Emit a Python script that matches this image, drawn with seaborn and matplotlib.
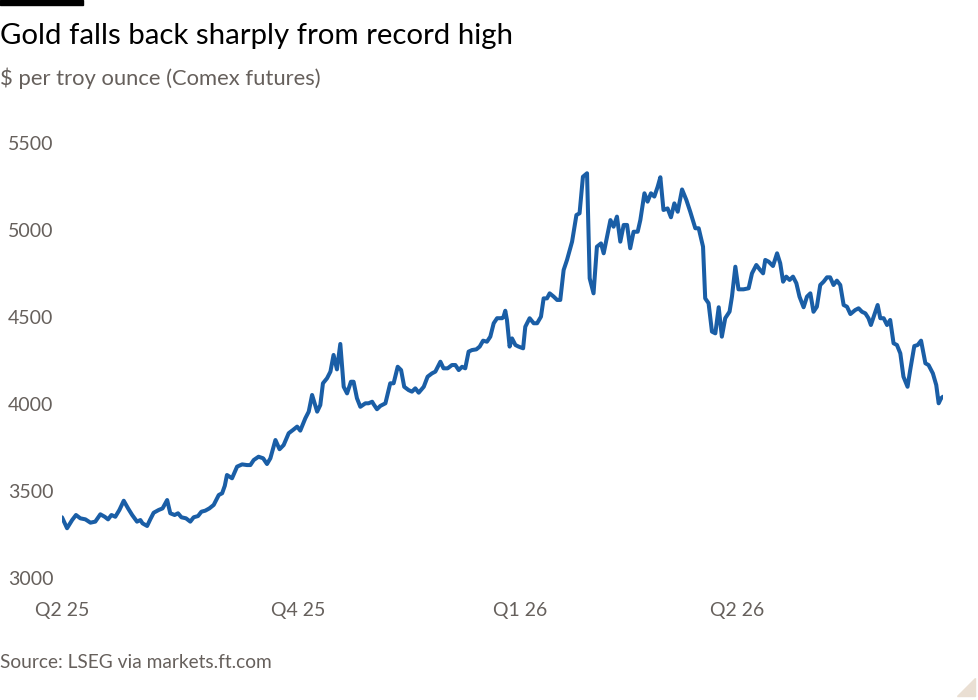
import matplotlib
matplotlib.use("Agg")
import matplotlib.pyplot as plt
import matplotlib.patches as mpatches
import seaborn as sns
import pandas as pd

# ---- data ----
start_date = "2025-07-01"
day_offset = [
    -6.0, -3.9, -1.8, -0.2, 1.6, 3.7, 5.8, 7.8, 9.9, 11.7, 13.1, 14.5, 16.1, 17.8, 19.6,
    21.4, 23.1, 25.1, 26.5, 27.4, 29.3, 30.6, 32.0, 34.1, 35.7, 37.6, 38.9, 40.7, 42.1,
    43.5, 45.4, 47.2, 48.6, 50.4, 51.8, 53.4, 55.1, 56.9, 59.0, 60.4, 61.5, 62.4, 64.5,
    66.6, 68.7, 70.7, 72.1, 73.5, 75.5, 77.4, 79.0, 80.4, 82.5, 84.2, 85.9, 88.0, 89.8,
    91.5, 92.8, 94.9, 96.3, 97.7, 99.8, 101.1, 102.2, 103.9, 105.3, 106.6, 108.0, 109.4,
    110.8, 112.2, 113.8, 114.9, 116.3, 117.7, 119.8, 121.1, 122.6, 123.2, 124.6, 126.0,
    128.1, 130.1, 131.5, 133.2, 134.6, 135.9, 137.7, 139.1, 140.5, 141.9, 144.0, 145.6,
    147.4, 148.8, 150.9, 152.2, 153.9, 155.7, 157.1, 158.5, 159.9, 161.2, 162.6, 164.0,
    165.8, 167.2, 168.6, 170.2, 171.6, 173.0, 174.4, 176.5, 177.1, 177.8, 178.5, 179.6,
    180.6, 182.0, 183.3, 185.2, 186.1, 187.9, 189.6, 191.0, 192.6, 193.7, 195.1, 196.2,
    197.8, 199.3, 200.6, 202.0, 203.4, 205.5, 207.3, 208.6, 210.0, 211.7, 212.8, 214.4,
    215.8, 217.5, 218.6, 220.0, 221.4, 222.7, 224.1, 225.5, 226.9, 228.3, 229.6, 231.0,
    232.7, 233.8, 235.5, 236.8, 238.2, 239.6, 241.0, 242.1, 243.4, 245.1, 246.5, 247.9,
    249.3, 251.1, 252.9, 254.5, 256.6, 258.0, 259.8, 260.7, 262.1, 263.5, 264.9, 266.3,
    267.6, 269.0, 270.8, 271.8, 273.2, 274.5, 276.6, 278.7, 280.1, 281.9, 283.5, 284.7,
    285.6, 287.0, 288.8, 290.5, 291.8, 293.0, 294.3, 295.7, 297.1, 298.5, 299.8, 301.5,
    302.9, 304.3, 305.6, 307.0, 308.4, 309.8, 311.2, 312.5, 313.9, 315.3, 316.7, 318.1,
    319.5, 320.9, 322.9, 324.3, 325.7, 327.1, 328.4, 329.4, 330.8, 332.2, 333.3, 334.7,
    336.1, 337.4, 338.8, 340.2, 341.6, 342.9, 344.6, 345.7, 347.4, 348.8, 350.2, 352.0,
    353.3, 355.1, 356.5, 357.5, 358.5, 359.3,
]
price = [
    3349, 3286, 3333, 3362, 3343, 3337, 3318, 3324, 3366, 3352, 3337, 3362, 3352, 3391, 3444,
    3400, 3362, 3324, 3333, 3314, 3299, 3337, 3375, 3391, 3400, 3448, 3372, 3362, 3372,
    3349, 3343, 3324, 3349, 3356, 3381, 3387, 3400, 3420, 3477, 3487, 3530, 3592, 3573,
    3640, 3653, 3649, 3649, 3678, 3697, 3688, 3655, 3688, 3793, 3740, 3764, 3832, 3851,
    3870, 3847, 3918, 3956, 4052, 3956, 3994, 4119, 4148, 4186, 4282, 4199, 4345,
    4099, 4061, 4128, 4128, 4033, 3984, 4004, 4004, 4013, 3999, 3970, 3989,
    4004, 4119, 4119, 4214, 4195, 4099, 4080, 4071, 4090, 4065, 4099, 4157,
    4176, 4186, 4243, 4205, 4205, 4224, 4224, 4195, 4214, 4205, 4301, 4310,
    4314, 4330, 4364, 4358, 4387, 4464, 4493, 4493, 4502, 4536, 4483, 4330,
    4377, 4339, 4330, 4320, 4444, 4493, 4464, 4464, 4502, 4607, 4607, 4636,
    4618, 4598, 4598, 4770, 4828, 4933, 5086, 5096, 5306, 5326, 4722, 4636,
    4904, 4923, 4866, 4962, 5057, 5019, 5077, 4933, 5029, 5029, 4895, 4990,
    4990, 5057, 5211, 5163, 5211, 5192, 5249, 5303, 5115, 5124, 5073, 5153,
    5105, 5233, 5172, 5105, 5010, 5010, 4904, 4607, 4579, 4416, 4406, 4556,
    4387, 4493, 4531, 4618, 4789, 4659, 4659, 4665, 4751, 4799, 4770, 4751,
    4828, 4818, 4793, 4866, 4809, 4703, 4732, 4713, 4732, 4694, 4617, 4556,
    4617, 4636, 4530, 4559, 4684, 4703, 4728, 4728, 4684, 4709, 4684, 4569,
    4559, 4517, 4540, 4550, 4530, 4521, 4493, 4454, 4511, 4569, 4493, 4493,
    4454, 4483, 4349, 4339, 4291, 4157, 4099, 4195, 4333, 4339, 4364, 4234,
    4224, 4176, 4109, 4004, 4033, 4042,
]
y_ticks = [3000, 3500, 4000, 4500, 5000, 5500]
x_tick_dates = ["2025-06-25", "2025-10-01", "2026-01-01", "2026-04-01"]
x_tick_labels = ["Q2 25", "Q4 25", "Q1 26", "Q2 26"]

title = "Gold falls back sharply from record high"
subtitle = "$ per troy ounce (Comex futures)"
source = "Source: LSEG via markets.ft.com"

# ---- build ----
df = pd.DataFrame({
    "date": pd.Timestamp(start_date) + pd.to_timedelta(day_offset, unit="D"),
    "price": price,
})

sns.set_theme(style="white")
plt.rcParams["font.family"] = ["Lato", "DejaVu Sans"]

W, H = 979, 700
fig = plt.figure(figsize=(W / 100, H / 100), dpi=100, facecolor="white")
ax = fig.add_axes([62 / W, 1 - 578 / H, (943 - 62) / W, (578 - 143) / H])
ax.set_facecolor("white")

sns.lineplot(data=df, x="date", y="price", ax=ax, color="#1a5ea6",
             linewidth=2.9, solid_joinstyle="round", solid_capstyle="round")

ax.set_xlim(df["date"].min(), df["date"].max())
ax.set_ylim(3000, 5500)
ax.set_yticks(y_ticks)
ax.set_yticklabels([str(v) for v in y_ticks])
ax.set_xticks(pd.to_datetime(x_tick_dates))
ax.set_xticklabels(x_tick_labels)
ax.set_xlabel("")
ax.set_ylabel("")
for s in ax.spines.values():
    s.set_visible(False)
ax.grid(False)

grey = "#66605c"
ax.tick_params(axis="y", length=0, pad=54 * 0.72, labelsize=14, labelcolor=grey)
ax.tick_params(axis="x", length=0, pad=17, labelsize=14, labelcolor=grey)
for lab in ax.get_yticklabels():
    lab.set_horizontalalignment("left")

fig.text(0 / W, 1 - 36 / H, title, fontsize=21.2, color="#000000", va="center", ha="left")
fig.text(0 / W, 1 - 78 / H, subtitle, fontsize=15.8, color=grey, va="center", ha="left")
fig.text(0 / W, 1 - 662 / H, source, fontsize=13.8, color=grey, va="center", ha="left")

# FT black bar at top-left and corner fold
fig.patches.append(mpatches.Rectangle((0, 1 - 5 / H), 83 / W, 5 / H,
                                      transform=fig.transFigure, color="black"))
fig.patches.append(mpatches.Polygon([(975 / W, 1 - 678 / H), (975 / W, 1 - 696 / H),
                                     (957 / W, 1 - 696 / H)], closed=True,
                                    transform=fig.transFigure, color="#eadfd3"))

fig.savefig("out.png", dpi=100, facecolor="white")
